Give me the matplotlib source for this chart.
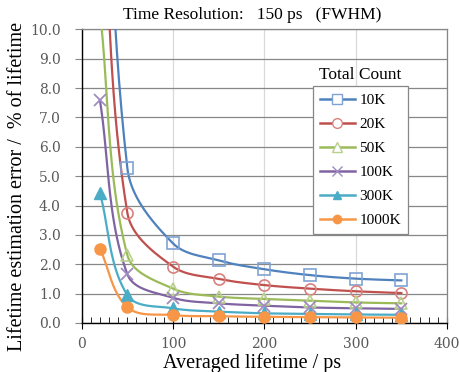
import matplotlib.pyplot as plt
from matplotlib.lines import Line2D
import numpy as np

# averaged lifetime (ps) and estimation error (% of lifetime) per total count
lifetime = np.array([20, 50, 100, 150, 200, 250, 300, 350])
err_10k = np.array([24.5, 5.27, 2.71, 2.13, 1.83, 1.63, 1.51, 1.45])
err_20k = np.array([17.1, 3.75, 1.92, 1.50, 1.29, 1.17, 1.08, 1.02])
err_50k = np.array([10.6, 2.31, 1.17, 0.90, 0.82, 0.76, 0.70, 0.67])
err_100k = np.array([7.58, 1.66, 0.86, 0.67, 0.59, 0.53, 0.50, 0.48])
err_300k = np.array([4.43, 0.95, 0.50, 0.39, 0.33, 0.31, 0.29, 0.28])
err_1000k = np.array([2.53, 0.54, 0.27, 0.23, 0.21, 0.20, 0.19, 0.18])

labels = ['10K', '20K', '50K', '100K', '300K', '1000K']
colors = ['#4F81BD', '#C0504D', '#9BBB59', '#8064A2', '#4BACC6', '#F79646']
edge_colors = ['#7FA3D3', '#D9817F', '#B8D08C', '#A08BC0', '#4BACC6', '#F79646']
markers = ['s', 'o', '^', 'x', '^', 'o']
filled = [False, False, False, False, True, True]
series = [err_10k, err_20k, err_50k, err_100k, err_300k, err_1000k]

serif = 'Liberation Serif'
tick_font = 'DejaVu Serif'


def smooth(ax, x, y, n=40):
    # smoothed line like a spreadsheet chart, built in screen space
    p = ax.transData.transform(np.column_stack([x, y]).astype(float))
    k = len(p)
    tang = []
    for i in range(k):
        d = p[min(i + 1, k - 1)] - p[max(i - 1, 0)]
        tang.append(d / np.hypot(*d))
    t = np.linspace(0, 1, n)[:, None]
    out = []
    for i in range(k - 1):
        p1, p2 = p[i], p[i + 1]
        arm = np.hypot(*(p2 - p1)) / 3
        c1 = p1 + tang[i] * arm
        c2 = p2 - tang[i + 1] * arm
        seg = (1 - t) ** 3 * p1 + 3 * (1 - t) ** 2 * t * c1 + 3 * (1 - t) * t ** 2 * c2 + t ** 3 * p2
        out.append(seg if i == 0 else seg[1:])
    out = ax.transData.inverted().transform(np.vstack(out))
    return out[:, 0], out[:, 1]


fig = plt.figure(figsize=(4.59, 3.72), dpi=100)
ax = fig.add_axes([81.7 / 459, 1 - 323 / 372, (447 - 81.7) / 459, (323 - 29.3) / 372])
ax.set_xlim(0, 400)
ax.set_ylim(0, 10)

handles = []
for y, lab, c, ec, m, f in zip(series, labels, colors, edge_colors, markers, filled):
    sx, sy = smooth(ax, lifetime, y)
    ax.plot(sx, sy, color=c, lw=1.6, zorder=3)
    ms = 8 if m != '^' else 8.5
    if m == 'x':
        ax.plot(lifetime, y, ls='none', marker='x', ms=8, mec=ec, mew=1.3, zorder=4)
        h = Line2D([], [], color=c, lw=1.8, marker='x', ms=7, mec=ec, mew=1.0)
    elif f:
        ax.plot(lifetime, y, ls='none', marker=m, ms=ms, mfc=c, mec=c, zorder=4)
        h = Line2D([], [], color=c, lw=1.8, marker=m, ms=6, mfc=c, mec=c)
    else:
        ax.plot(lifetime, y, ls='none', marker=m, ms=ms, mfc='none', mec=ec, mew=1.2, zorder=4)
        h = Line2D([], [], color=c, lw=1.8, marker=m, ms=7, mfc='white', mec=ec, mew=1.0)
    handles.append(h)

ax.set_xticks([0, 100, 200, 300, 400])
ax.set_xticks(np.arange(0, 401, 10), minor=True)
ax.set_yticks(np.arange(0, 10.01, 1.0))
ax.set_yticklabels([f'{v:.1f}' for v in np.arange(0, 10.01, 1.0)])

ax.grid(axis='y', color='#878787', lw=0.9, zorder=0)
ax.grid(axis='x', color='#D9D9D9', lw=0.9, zorder=0)
for s in ['top', 'right']:
    ax.spines[s].set_color('#878787')
    ax.spines[s].set_linewidth(0.9)
for s in ['left', 'bottom']:
    ax.spines[s].set_color('black')
    ax.spines[s].set_linewidth(1.0)

ax.tick_params(axis='y', which='major', direction='out', length=5, color='#878787',
               labelsize=10, labelcolor='#595959', pad=10)
ax.tick_params(axis='x', which='major', direction='inout', length=8, color='black',
               labelsize=10, labelcolor='#595959', pad=6)
ax.tick_params(axis='x', which='minor', direction='in', length=4, color='black')
for lbl in ax.get_xticklabels() + ax.get_yticklabels():
    lbl.set_fontfamily(tick_font)

ax.set_xlabel('Averaged lifetime / ps', fontsize=14.5, family=serif)
ax.xaxis.set_label_coords(0.466, -0.104)
ax.set_ylabel('Lifetime estimation error /  % of lifetime', fontsize=14.5, family=serif)
ax.yaxis.set_label_coords(-0.15, 0.466)

fig.text(252 / 459, 1 - 15 / 372, 'Time Resolution:   150 ps   (FWHM)', ha='center', va='center',
         fontsize=12.5, family=serif)
fig.text(360 / 459, 1 - 75 / 372, 'Total Count', ha='center', va='center',
         fontsize=12.5, family=serif)

leg = ax.legend(handles, labels, loc='upper left', bbox_to_anchor=(0.633, 0.806),
                frameon=True, fancybox=False, edgecolor='#878787', framealpha=1,
                prop={'family': serif, 'size': 11}, handlelength=2.3, handletextpad=0.3,
                labelspacing=0.68, borderpad=0.45, borderaxespad=0)
leg.get_frame().set_linewidth(0.9)

fig.savefig('out.png', dpi=100)
